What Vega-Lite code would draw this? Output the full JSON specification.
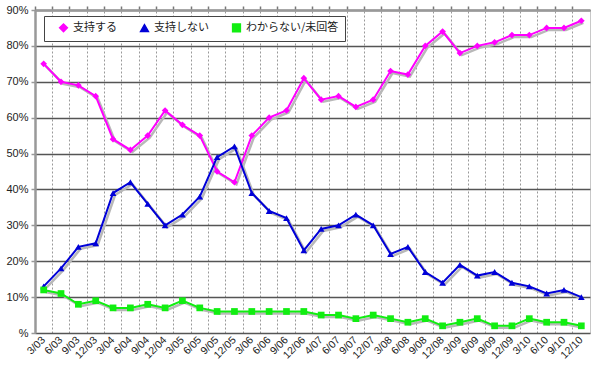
{
  "$schema": "https://vega.github.io/schema/vega-lite/v6.json",
  "width": 555,
  "height": 323,
  "autosize": "none",
  "padding": {"left": 35, "top": 10, "right": 10, "bottom": 39},
  "background": "white",
  "config": {
    "view": {"stroke": "#c8c8c8", "strokeWidth": 1},
    "font": "Liberation Sans",
    "legend": {
      "orient": "none",
      "legendX": 9,
      "legendY": 6,
      "direction": "horizontal",
      "strokeColor": "#444",
      "fillColor": "white",
      "padding": 6,
      "labelFont": "Noto Sans CJK JP",
      "labelFontSize": 11,
      "labelColor": "#222",
      "columnPadding": 14,
      "symbolSize": 60,
      "symbolOffset": 8,
      "symbolStrokeWidth": 1.5
    }
  },
  "datasets": {
    "poll": [
      {"d": "3/03", "支持する": 75, "支持しない": 13, "わからない/未回答": 12},
      {"d": "6/03", "支持する": 70, "支持しない": 18, "わからない/未回答": 11},
      {"d": "9/03", "支持する": 69, "支持しない": 24, "わからない/未回答": 8},
      {"d": "12/03", "支持する": 66, "支持しない": 25, "わからない/未回答": 9},
      {"d": "3/04", "支持する": 54, "支持しない": 39, "わからない/未回答": 7},
      {"d": "6/04", "支持する": 51, "支持しない": 42, "わからない/未回答": 7},
      {"d": "9/04", "支持する": 55, "支持しない": 36, "わからない/未回答": 8},
      {"d": "12/04", "支持する": 62, "支持しない": 30, "わからない/未回答": 7},
      {"d": "3/05", "支持する": 58, "支持しない": 33, "わからない/未回答": 9},
      {"d": "6/05", "支持する": 55, "支持しない": 38, "わからない/未回答": 7},
      {"d": "9/05", "支持する": 45, "支持しない": 49, "わからない/未回答": 6},
      {"d": "12/05", "支持する": 42, "支持しない": 52, "わからない/未回答": 6},
      {"d": "3/06", "支持する": 55, "支持しない": 39, "わからない/未回答": 6},
      {"d": "6/06", "支持する": 60, "支持しない": 34, "わからない/未回答": 6},
      {"d": "9/06", "支持する": 62, "支持しない": 32, "わからない/未回答": 6},
      {"d": "12/06", "支持する": 71, "支持しない": 23, "わからない/未回答": 6},
      {"d": "4/07", "支持する": 65, "支持しない": 29, "わからない/未回答": 5},
      {"d": "6/07", "支持する": 66, "支持しない": 30, "わからない/未回答": 5},
      {"d": "9/07", "支持する": 63, "支持しない": 33, "わからない/未回答": 4},
      {"d": "12/07", "支持する": 65, "支持しない": 30, "わからない/未回答": 5},
      {"d": "3/08", "支持する": 73, "支持しない": 22, "わからない/未回答": 4},
      {"d": "6/08", "支持する": 72, "支持しない": 24, "わからない/未回答": 3},
      {"d": "9/08", "支持する": 80, "支持しない": 17, "わからない/未回答": 4},
      {"d": "12/08", "支持する": 84, "支持しない": 14, "わからない/未回答": 2},
      {"d": "3/09", "支持する": 78, "支持しない": 19, "わからない/未回答": 3},
      {"d": "6/09", "支持する": 80, "支持しない": 16, "わからない/未回答": 4},
      {"d": "9/09", "支持する": 81, "支持しない": 17, "わからない/未回答": 2},
      {"d": "12/09", "支持する": 83, "支持しない": 14, "わからない/未回答": 2},
      {"d": "3/10", "支持する": 83, "支持しない": 13, "わからない/未回答": 4},
      {"d": "6/10", "支持する": 85, "支持しない": 11, "わからない/未回答": 3},
      {"d": "9/10", "支持する": 85, "支持しない": 12, "わからない/未回答": 3},
      {"d": "12/10", "支持する": 87, "支持しない": 10, "わからない/未回答": 2}
    ]
  },
  "data": {"name": "poll"},
  "transform": [
    {"fold": ["支持する", "支持しない", "わからない/未回答"], "as": ["s", "v"]}
  ],
  "encoding": {
    "y": {
      "field": "v", "type": "quantitative",
      "scale": {"domain": [0, 90], "nice": false},
      "axis": {
        "title": null, "values": [0, 10, 20, 30, 40, 50, 60, 70, 80, 90],
        "labelOverlap": false,
        "labelExpr": "datum.value == 0 ? '%' : datum.value + '%'",
        "labelFontSize": 11, "labelColor": "#222", "labelPadding": 3,
        "grid": true, "gridColor": "#555", "gridWidth": 1.5,
        "domainColor": "#999", "domainWidth": 2.5,
        "tickColor": "#999", "tickSize": 4, "tickWidth": 1.5
      }
    }
  },
  "layer": [
    {
      "mark": {"type": "line", "strokeWidth": 2.5, "color": "#b8b8b8", "xOffset": 2, "yOffset": 2},
      "encoding": {
        "x": {"field": "d", "type": "nominal", "sort": null, "scale": {"type": "band", "paddingInner": 0, "paddingOuter": 0}, "axis": null},
        "detail": {"field": "s"}
      }
    },
    {
      "mark": {"type": "line", "strokeWidth": 2},
      "encoding": {
        "x": {
          "field": "d", "type": "nominal", "sort": null,
          "scale": {"type": "band", "paddingInner": 0, "paddingOuter": 0},
          "axis": {
            "title": null, "labelAngle": -45, "labelAlign": "right", "labelBaseline": "middle",
            "labelFontSize": 10.5, "labelColor": "#222", "labelPadding": 5, "labelOverlap": false,
            "ticks": false, "grid": false, "domain": false
          }
        },
        "color": {
          "field": "s", "type": "nominal", "title": null,
          "scale": {"domain": ["支持する", "支持しない", "わからない/未回答"], "range": ["#ff00ff", "#0000d8", "#11ee11"]}
        }
      }
    },
    {
      "mark": {"type": "point", "filled": true, "size": 45, "opacity": 1},
      "encoding": {
        "x": {
          "field": "d", "type": "nominal", "sort": null,
          "scale": {"type": "band", "paddingInner": 0, "paddingOuter": 0},
          "axis": {
            "title": null, "labels": false, "bandPosition": 0,
            "grid": true, "gridColor": "#999", "gridDash": [2, 2], "gridWidth": 1,
            "ticks": true, "tickColor": "#777", "tickSize": 4, "tickWidth": 1.5,
            "domainColor": "#999", "domainWidth": 2.5
          }
        },
        "color": {"field": "s", "type": "nominal", "title": null},
        "shape": {
          "field": "s", "type": "nominal", "title": null,
          "scale": {"domain": ["支持する", "支持しない", "わからない/未回答"], "range": ["diamond", "triangle-up", "square"]}
        }
      }
    }
  ],
  "resolve": {"axis": {"x": "independent"}}
}
